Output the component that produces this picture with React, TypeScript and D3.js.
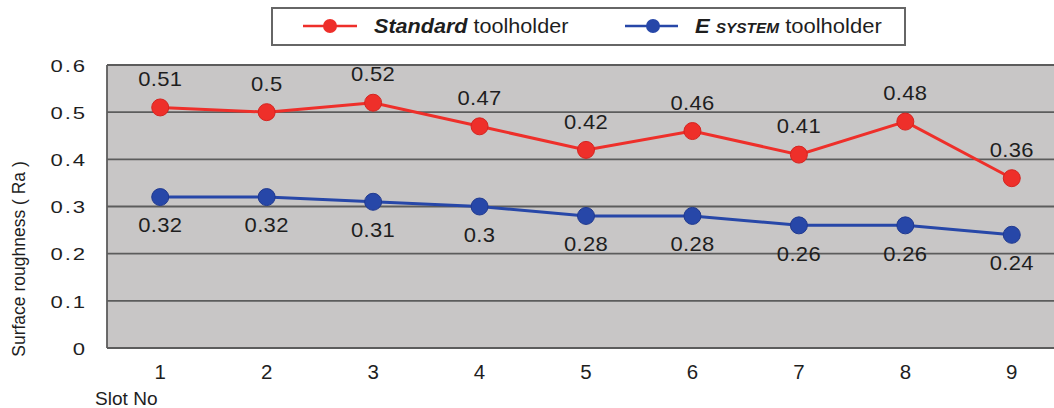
import React from "react";
import * as d3 from "d3";

const slots = ["1", "2", "3", "4", "5", "6", "7", "8", "9"];
const standardValues = [0.51, 0.5, 0.52, 0.47, 0.42, 0.46, 0.41, 0.48, 0.36];
const eSystemValues = [0.32, 0.32, 0.31, 0.3, 0.28, 0.28, 0.26, 0.26, 0.24];
const yTicks = [0, 0.1, 0.2, 0.3, 0.4, 0.5, 0.6];

const W = 1054;
const H = 408;
const left = 107;
const top = 65;
const bottom = 348;
const plotRight = 1065;

function T(props: {
  x: number;
  y: number;
  size: number;
  sx?: number;
  anchor?: string;
  ls?: number;
  children: React.ReactNode;
}) {
  const { x, y, size, sx = 1, anchor = "start", ls = 0, children } = props;
  return (
    <g transform={`translate(${x},${y}) scale(${sx},1)`}>
      <text
        x={0}
        y={0}
        dy="0.36em"
        textAnchor={anchor}
        fontSize={size}
        fill="#1e1e1e"
        letterSpacing={ls}
      >
        {children}
      </text>
    </g>
  );
}

export default function App() {
  const x = d3.scaleBand<string>().domain(slots).range([left, plotRight]);
  const y = d3.scaleLinear().domain([0, 0.6]).range([bottom, top]);
  const cx = (i: number) => (x(slots[i]) as number) + x.bandwidth() / 2;
  const line = d3
    .line<number>()
    .x((_, i) => cx(i))
    .y((d) => y(d));
  const font = "Arial, 'Liberation Sans', sans-serif";
  const red = "#ee2f2a";
  const blue = "#2747a8";
  const fmt = (v: number) => String(v);

  return (
    <svg
      width={W}
      height={H}
      style={{ position: "absolute", left: 0, top: 0, background: "#fff" }}
      fontFamily={font}
    >
      <rect x={left} y={top} width={plotRight - left} height={bottom - top} fill="#c8c6c6" />
      {yTicks.map((t) => (
        <line
          key={t}
          x1={left}
          x2={plotRight}
          y1={y(t)}
          y2={y(t)}
          stroke="#5c5c5c"
          strokeWidth={1.8}
        />
      ))}
      <line x1={left} x2={left} y1={top} y2={bottom} stroke="#5c5c5c" strokeWidth={1.8} />
      {yTicks.map((t) => (
        <T key={t} x={87} y={y(t) + 1} size={16} sx={1.38} anchor="end" ls={1.4}>
          {fmt(t)}
        </T>
      ))}
      {slots.map((s, i) => (
        <T key={s} x={cx(i)} y={372} size={19.5} sx={1.05} anchor="middle">
          {s}
        </T>
      ))}
      <text
        transform={`translate(25,259) rotate(-90)`}
        textAnchor="middle"
        fontSize={17.5}
        fill="#1e1e1e"
      >
        Surface roughness ( Ra )
      </text>
      <T x={95} y={399} size={18} sx={1.06}>
        Slot No
      </T>

      <path d={line(standardValues) || ""} fill="none" stroke={red} strokeWidth={3} />
      <path d={line(eSystemValues) || ""} fill="none" stroke={blue} strokeWidth={3} />
      {standardValues.map((v, i) => (
        <g key={"s" + i}>
          <circle cx={cx(i)} cy={y(v)} r={8.5} fill={red} stroke="#d52420" strokeWidth={1} />
          <T x={cx(i)} y={y(v) - 28.5} size={20} sx={1.1} anchor="middle" ls={0.3}>
            {fmt(v)}
          </T>
        </g>
      ))}
      {eSystemValues.map((v, i) => (
        <g key={"e" + i}>
          <circle cx={cx(i)} cy={y(v)} r={8.5} fill={blue} stroke="#20398f" strokeWidth={1} />
          <T x={cx(i)} y={y(v) + 28} size={20} sx={1.1} anchor="middle" ls={0.3}>
            {fmt(v)}
          </T>
        </g>
      ))}

      <rect x={272} y={8} width={633} height={37} fill="#fff" stroke="#666" strokeWidth={2} />
      <line x1={303} x2={357} y1={26} y2={26} stroke={red} strokeWidth={2.5} />
      <circle cx={330} cy={26} r={7} fill={red} />
      <g transform="translate(374,26) scale(1.08,1)">
        <text x={0} y={0} dy="0.36em" fontSize={20} fill="#1e1e1e">
          <tspan fontWeight="bold" fontStyle="italic">Standard</tspan>
          <tspan> toolholder</tspan>
        </text>
      </g>
      <line x1={625} x2={678} y1={26} y2={26} stroke={blue} strokeWidth={2.5} />
      <circle cx={653} cy={26} r={7} fill={blue} />
      <g transform="translate(695,26) scale(1.1,1)">
        <text x={0} y={0} dy="0.36em" fontSize={20} fill="#1e1e1e">
          <tspan fontWeight="bold" fontStyle="italic">E </tspan>
          <tspan fontWeight="bold" fontStyle="italic" fontSize={14}>SYSTEM</tspan>
          <tspan> toolholder</tspan>
        </text>
      </g>
    </svg>
  );
}
